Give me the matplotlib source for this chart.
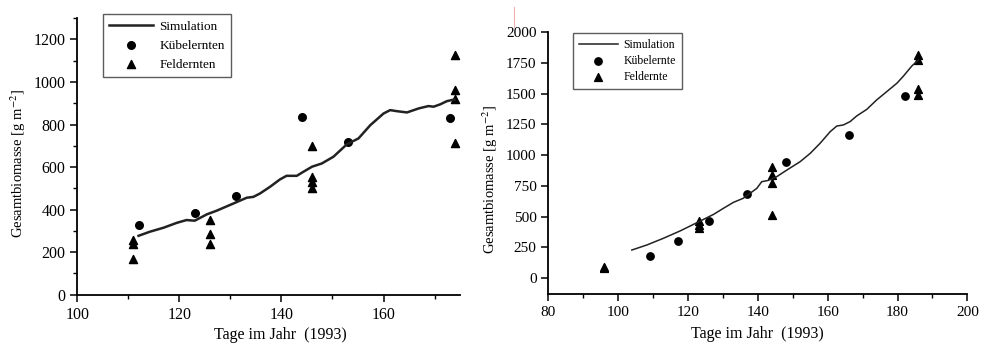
import matplotlib.pyplot as plt
from matplotlib.lines import Line2D
from matplotlib.ticker import MultipleLocator

plt.rcParams['font.family'] = ['Liberation Serif', 'DejaVu Serif']
plt.rcParams['mathtext.fontset'] = 'stix'

# linke Grafik
sim1_tag = [112, 114.2, 116.9, 119.5, 121.4, 123, 125.4, 127.3, 130.6, 133.2, 134.5,
            135.8, 137.8, 139.7, 141, 143, 144.3, 146, 147.9, 150.2, 152.8, 155.1,
            157.4, 160, 161.3, 162.6, 164.6, 166.9, 168.8, 169.8, 171.1, 172.4, 173.9]
sim1_wert = [277, 296, 315, 338, 351, 348, 378, 395, 429, 456, 460,
             476, 508, 542, 559, 559, 578, 602, 617, 649, 707, 735,
             797, 852, 868, 863, 857, 876, 887, 884, 895, 910, 918]
kuebel1_tag = [112, 123, 131, 144, 153, 173]
kuebel1_wert = [326, 385, 464, 837, 716, 829]
feld1_tag = [111, 111, 111, 126, 126, 126, 146, 146, 146, 146, 174, 174, 174, 174]
feld1_wert = [255, 238, 166, 351, 284, 238, 700, 555, 531, 504, 1125, 962, 920, 711]

# rechte Grafik
sim2_tag = [103.9, 108.2, 112.9, 117.7, 122.5, 127.3, 130.1, 133, 135.8, 139.7, 141.1,
            143, 145.4, 148.3, 152.1, 155, 157.8, 160.7, 162.6, 164.5, 166.4, 168.3,
            171.2, 174, 176.9, 179.8, 181.7, 184.1, 186]
sim2_wert = [228, 269, 323, 383, 450, 518, 567, 616, 649, 730, 784,
             795, 825, 879, 947, 1015, 1096, 1191, 1237, 1246, 1273, 1319,
             1373, 1449, 1517, 1585, 1644, 1726, 1775]
kuebel2_tag = [109, 117, 126, 137, 148, 166, 182]
kuebel2_wert = [179, 301, 467, 685, 942, 1167, 1479]
feld2_tag = [96, 96, 123, 123, 123, 144, 144, 144, 144, 186, 186, 186, 186]
feld2_wert = [80, 92, 465, 428, 408, 906, 838, 771, 513, 1815, 1775, 1536, 1490]


def style_axes(ax, fs):
    ax.spines['top'].set_visible(False)
    ax.spines['right'].set_visible(False)
    ax.spines['left'].set_linewidth(1.3)
    ax.spines['bottom'].set_linewidth(1.3)
    ax.tick_params(which='major', direction='out', length=5, width=1.1, labelsize=fs)
    ax.tick_params(which='minor', direction='out', length=3, width=1.0)


fig = plt.figure(figsize=(9.81, 3.44), dpi=100)

ax1 = fig.add_axes([0.0788, 0.1433, 0.3902, 0.8037])
ax1.plot(sim1_tag, sim1_wert, color='#222222', lw=1.8, label='Simulation')
ax1.scatter(kuebel1_tag, kuebel1_wert, marker='o', s=30, color='black', label='Kübelernten')
ax1.scatter(feld1_tag, feld1_wert, marker='^', s=34, color='black', label='Feldernten')
ax1.set_xlim(100, 175)
ax1.set_ylim(0, 1300)
ax1.xaxis.set_major_locator(MultipleLocator(20))
ax1.xaxis.set_minor_locator(MultipleLocator(10))
ax1.yaxis.set_major_locator(MultipleLocator(200))
ax1.yaxis.set_minor_locator(MultipleLocator(100))
style_axes(ax1, 11.5)
ax1.set_ylabel('Gesamtbiomasse [g m$^{-2}$]', fontsize=10.5)
ax1.yaxis.set_label_coords(-0.13, 0.475)
leg1 = ax1.legend(loc='upper left', bbox_to_anchor=(0.066, 1.015), fontsize=9.5,
                  frameon=True, fancybox=False, edgecolor='#333333', handlelength=3.3,
                  borderpad=0.5, labelspacing=0.5, handletextpad=0.5, borderaxespad=0)
leg1.get_frame().set_linewidth(1.0)

ax2 = fig.add_axes([0.559, 0.1453, 0.4271, 0.7608])
ax2.plot(sim2_tag, sim2_wert, color='#222222', lw=1.1, label='Simulation')
ax2.scatter(kuebel2_tag, kuebel2_wert, marker='o', s=28, color='black', label='Kübelernte')
ax2.scatter(feld2_tag, feld2_wert, marker='^', s=32, color='black', label='Feldernte')
ax2.set_xlim(80, 200)
ax2.set_ylim(-130, 2000)
ax2.xaxis.set_major_locator(MultipleLocator(20))
ax2.xaxis.set_minor_locator(MultipleLocator(10))
ax2.yaxis.set_major_locator(MultipleLocator(250))
style_axes(ax2, 11)
ax2.set_ylabel('Gesamtbiomasse [g m$^{-2}$]', fontsize=10.5)
ax2.yaxis.set_label_coords(-0.115, 0.436)
leg2 = ax2.legend(loc='upper left', bbox_to_anchor=(0.058, 0.998), fontsize=8.5,
                  frameon=True, fancybox=False, edgecolor='#333333', handlelength=3.3,
                  borderpad=0.5, labelspacing=0.35, handletextpad=0.5, borderaxespad=0)
leg2.get_frame().set_linewidth(1.0)

# x-Achsentitel
fig.text(280 / 981, 1 - 335 / 344, 'Tage im Jahr  (1993)', fontsize=11.5,
         ha='center', va='center')
fig.text(757 / 981, 1 - 334 / 344, 'Tage im Jahr  (1993)', fontsize=11.5,
         ha='center', va='center')

# kleine rote Markierung oben
fig.add_artist(Line2D([514 / 981, 514 / 981], [1 - 7 / 344, 1 - 27 / 344],
                      color='#f4b0b0', lw=0.8))

fig.savefig('out.png', dpi=100)
